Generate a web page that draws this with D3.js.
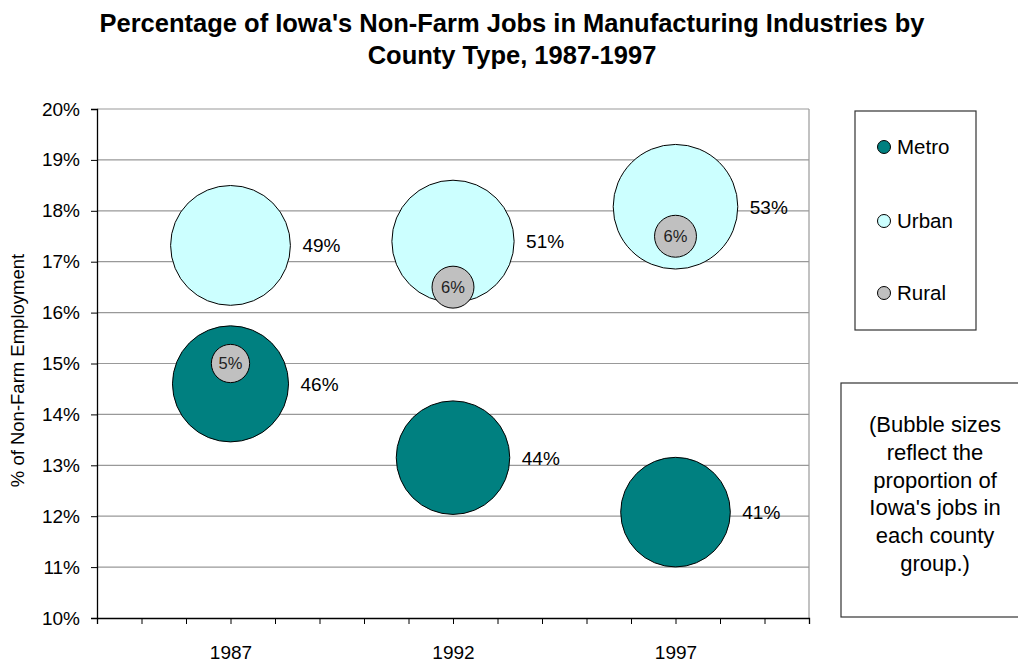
<!DOCTYPE html>
<html>
<head>
<meta charset="utf-8">
<script src="https://cdn.jsdelivr.net/npm/d3@7"></script>
<style>
  body { margin: 0; background: #fff; }
  svg { display: block; font-family: Arial, "Liberation Sans", sans-serif; }
</style>
</head>
<body>
<svg id="chart" width="1018" height="665"></svg>
<script>
// data
const years = [1987, 1992, 1997];
const metroPct = [14.6, 13.15, 12.08];
const metroSize = [46, 44, 41];
const urbanPct = [17.32, 17.4, 18.08];
const urbanSize = [49, 51, 53];
const ruralPct = [15.0, 16.5, 17.5];
const ruralSize = [5, 6, 6];
const seriesNames = ["Metro", "Urban", "Rural"];
const seriesColors = ["#008080", "#CCFFFF", "#C0C0C0"];
const yTicks = [10, 11, 12, 13, 14, 15, 16, 17, 18, 19, 20];
const noteLines = ["(Bubble sizes", "reflect the", "proportion of", "Iowa's jobs in", "each county", "group.)"];

const margin = { top: 109, left: 97 };
const width = 712, height = 509;
const font = "Arial, 'Liberation Sans', sans-serif";

const svg = d3.select("#chart");

// title
svg.append("text")
  .attr("x", 512).attr("y", 32)
  .attr("text-anchor", "middle")
  .attr("font-weight", "bold").attr("font-size", 25.5)
  .text("Percentage of Iowa's Non-Farm Jobs in Manufacturing Industries by");
svg.append("text")
  .attr("x", 512).attr("y", 64)
  .attr("text-anchor", "middle")
  .attr("font-weight", "bold").attr("font-size", 25.5)
  .text("County Type, 1987-1997");

const g = svg.append("g").attr("transform", `translate(${margin.left},${margin.top})`);

const x = d3.scaleLinear().domain([1984, 2000]).range([0, width]);
const y = d3.scaleLinear().domain([10, 20]).range([height, 0]);
const r = d3.scaleSqrt().domain([0, 53]).range([0, 62.3]);

// gridlines + plot border
g.append("g")
  .selectAll("line").data(yTicks.slice(1)).join("line")
  .attr("x1", 0).attr("x2", width)
  .attr("y1", d => y(d)).attr("y2", d => y(d))
  .attr("stroke", "#999").attr("stroke-width", 1.2);
g.append("line")
  .attr("x1", width).attr("x2", width).attr("y1", 0).attr("y2", height)
  .attr("stroke", "#999").attr("stroke-width", 1.2);

// y axis
const yAxis = g.append("g")
  .call(d3.axisLeft(y).tickValues(yTicks).tickFormat(d => d + "%").tickSize(6).tickPadding(11));
yAxis.select(".domain").attr("stroke", "#000").attr("stroke-width", 1.3);
yAxis.selectAll("text").attr("font-size", 19).attr("fill", "#000").attr("font-family", font);

// x axis
const xAxis = g.append("g")
  .attr("transform", `translate(0,${height})`)
  .call(d3.axisBottom(x).tickValues(d3.range(1984, 2001)).tickSize(6).tickPadding(22)
    .tickFormat(d => years.includes(d) ? d : ""));
xAxis.select(".domain").attr("stroke", "#000").attr("stroke-width", 1.3);
xAxis.selectAll("text").attr("font-size", 19).attr("fill", "#000").attr("font-family", font);

svg.append("text")
  .attr("transform", `translate(24,${margin.top + height / 2 + 7}) rotate(-90)`)
  .attr("text-anchor", "middle")
  .attr("font-size", 18.5)
  .text("% of Non-Farm Employment");

// bubbles
const series = [
  { pct: metroPct, size: metroSize, color: seriesColors[0], outside: true },
  { pct: urbanPct, size: urbanSize, color: seriesColors[1], outside: true },
  { pct: ruralPct, size: ruralSize, color: seriesColors[2], outside: false },
];

series.forEach(s => {
  const pts = years.map((yr, i) => ({ yr, pct: s.pct[i], size: s.size[i] }));
  const sg = g.append("g");
  sg.selectAll("circle").data(pts).join("circle")
    .attr("cx", d => x(d.yr))
    .attr("cy", d => y(d.pct))
    .attr("r", d => r(d.size))
    .attr("fill", s.color)
    .attr("stroke", "#000").attr("stroke-width", 1);
  sg.selectAll("text").data(pts).join("text")
    .attr("x", d => s.outside ? x(d.yr) + r(d.size) + 12 : x(d.yr))
    .attr("y", d => y(d.pct))
    .attr("dy", "0.36em")
    .attr("text-anchor", s.outside ? "start" : "middle")
    .attr("font-size", s.outside ? 19 : 16.5)
    .attr("fill", s.outside ? "#000" : "#222")
    .text(d => d.size + "%");
});

// legend
const legend = svg.append("g").attr("transform", "translate(855,111)");
legend.append("rect")
  .attr("width", 121).attr("height", 219)
  .attr("fill", "#fff").attr("stroke", "#333").attr("stroke-width", 1.2);
const legendY = [36, 110, 182];
const items = legend.selectAll("g.item").data(seriesNames).join("g")
  .attr("transform", (d, i) => `translate(29,${legendY[i]})`);
items.append("circle").attr("r", 6.5)
  .attr("fill", (d, i) => seriesColors[i]).attr("stroke", "#000").attr("stroke-width", 1);
items.append("text")
  .attr("x", 13).attr("dy", "0.36em")
  .attr("font-size", 20.5)
  .text(d => d);

// note box
const note = svg.append("g").attr("transform", "translate(841,383)");
note.append("rect")
  .attr("width", 190).attr("height", 234)
  .attr("fill", "#fff").attr("stroke", "#333").attr("stroke-width", 1.2);
note.selectAll("text").data(noteLines).join("text")
  .attr("x", 94).attr("y", (d, i) => 49 + i * 27.8)
  .attr("text-anchor", "middle")
  .attr("font-size", 22)
  .text(d => d);
</script>
</body>
</html>
